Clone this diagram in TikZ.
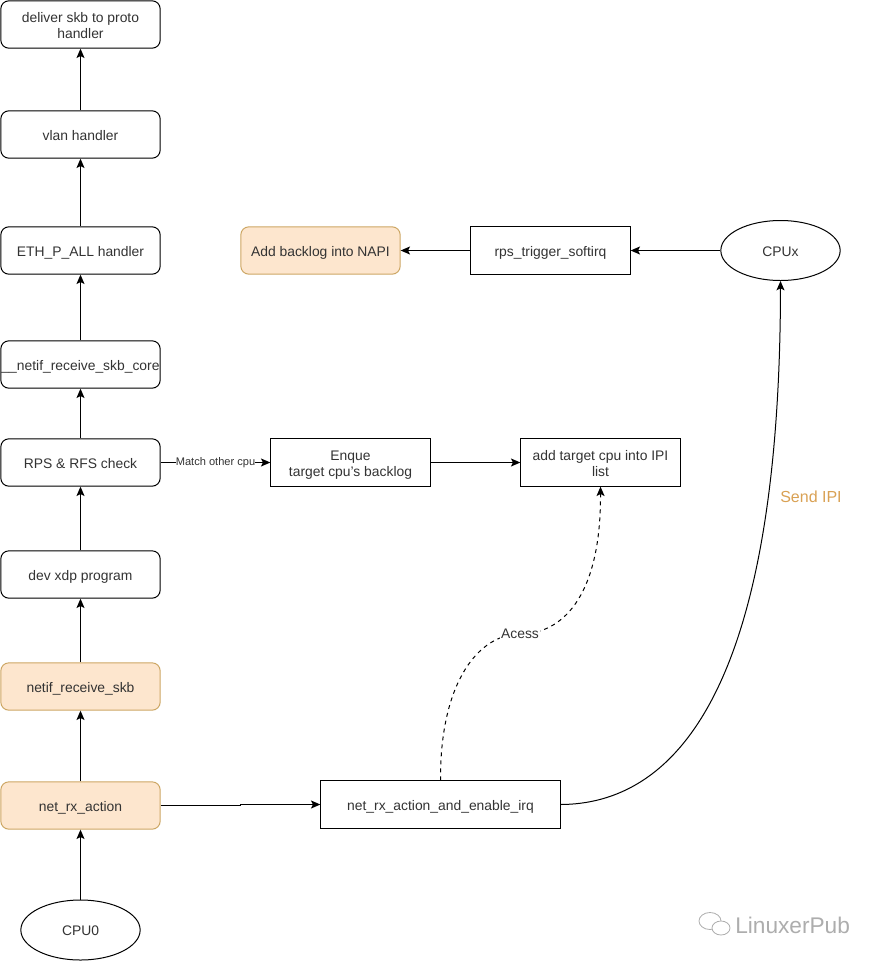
\documentclass[tikz,border=0pt]{standalone}
\usepackage{fontspec}
\setmainfont{Liberation Sans}
\usetikzlibrary{arrows.meta,shapes.geometric}
\definecolor{hlfill}{HTML}{FDE6CE}
\definecolor{hledge}{HTML}{CDA765}
\definecolor{tagorange}{HTML}{D9A154}
\definecolor{inktext}{HTML}{333333}
\definecolor{markgray}{HTML}{ADADAD}
\tikzset{
  x=0.75pt, y=-0.75pt,
  every node/.style={font=\fontsize{10.4pt}{12pt}\selectfont, text=inktext, align=center, inner sep=0pt},
  boxtext/.style={execute at begin node={\rule[-3pt]{0pt}{14.9pt}}},
  twolines/.style={execute at begin node={\rule[-3pt]{0pt}{26.9pt}}},
  roundbox/.style={boxtext, draw=black, line width=0.75pt, rounded corners=6pt, minimum width=119.5pt, minimum height=35.5pt, fill=white},
  hlbox/.style={roundbox, draw=hledge, fill=hlfill},
  plainbox/.style={boxtext, draw=black, line width=0.75pt, minimum width=119.5pt, minimum height=35.5pt, fill=white},
  oval/.style={boxtext, draw=black, line width=0.75pt, ellipse, minimum width=89.5pt, minimum height=45pt, fill=white},
  link/.style={draw=black, line width=0.75pt, -{Stealth[length=7pt,width=6pt,inset=1.5pt]}},
  smalltag/.style={font=\fontsize{8.3pt}{10pt}\selectfont, fill=white},
}
\begin{document}
\begin{tikzpicture}
\useasboundingbox (0,0) rectangle (881,961);
% receive path, bottom to top
\node[oval] (cpuz) at (80.5,930) {CPU0};
\node[hlbox] (rxa) at (80.5,805.5) {net\_rx\_action};
\node[hlbox] (nrs) at (80.5,686.5) {netif\_receive\_skb};
\node[roundbox] (xdp) at (80.5,574.5) {dev xdp program};
\node[roundbox] (rps) at (80.5,462.5) {RPS \& RFS check};
\node[roundbox] (core) at (80.5,364.5) {\_\_netif\_receive\_skb\_core};
\node[roundbox] (eth) at (80.5,250.5) {ETH\_P\_ALL handler};
\node[roundbox] (vlan) at (80.5,134.5) {vlan handler};
\node[roundbox, twolines] (deliver) at (80.5,24.5) {deliver skb to proto\\handler};
% remote CPU side
\node[hlbox] (napi) at (320.5,250.5) {Add backlog into NAPI};
\node[plainbox] (trig) at (550.5,250.5) {rps\_trigger\_softirq};
\node[oval] (cpux) at (780.5,250.5) {CPUx};
\node[plainbox, twolines] (enq) at (350.5,462.5) {Enque\\target cpu's backlog};
\node[plainbox, twolines] (ipi) at (600.5,462.5) {add target cpu into IPI\\list};
\node[plainbox, minimum width=179.5pt] (rxi) at (440.5,804.5) {net\_rx\_action\_and\_enable\_irq};
% connectors
\draw[link] (cpuz.north) -- (rxa.south);
\draw[link] (rxa.north) -- (nrs.south);
\draw[link] (nrs.north) -- (xdp.south);
\draw[link] (xdp.north) -- (rps.south);
\draw[link] (rps.north) -- (core.south);
\draw[link] (core.north) -- (eth.south);
\draw[link] (eth.north) -- (vlan.south);
\draw[link] (vlan.north) -- (deliver.south);
\draw[link] (cpux.west) -- (trig.east);
\draw[link] (trig.west) -- (napi.east);
\draw[link] (enq.east) -- (ipi.west);
\draw[link] (rps.east) -- node[smalltag] {Match other cpu} (enq.west);
\draw[link] (rxa.east) -- (240,805.5) -- (240,804.5) -- (rxi.west);
\draw[link] (rxi.east) .. controls (670,804) and (780,700) .. (cpux.south);
\draw[link, dashed, dash pattern=on 3pt off 3pt] (rxi.north) .. controls (440,680) and (480,634) .. (520,634)
  node[fill=white, inner xsep=1pt, inner ysep=1pt] {Acess}
  .. controls (560,634) and (601,600) .. (ipi.south);
\node[font=\fontsize{12pt}{14pt}\selectfont, text=tagorange] (sendlbl) at (811,497) {Send IPI};
% channel mark in the lower corner
\begin{scope}[draw=markgray, line width=0.6pt]
  \draw (710,921) ellipse [x radius=11, y radius=8.5];
  \draw[fill=white] (721,928) ellipse [x radius=9, y radius=7];
\end{scope}
\node[font=\fontsize{17pt}{19pt}\selectfont, text=markgray, anchor=west] (mark) at (735,925) {LinuxerPub};
\end{tikzpicture}
\end{document}
